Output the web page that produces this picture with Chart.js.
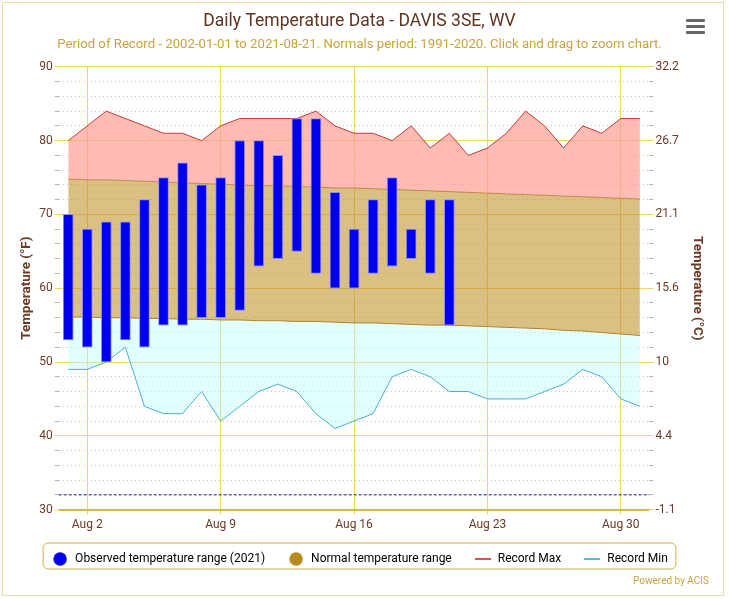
<!DOCTYPE html>
<html>
<head>
<meta charset="utf-8">
<script src="https://cdn.jsdelivr.net/npm/chart.js@4.4.1/dist/chart.umd.min.js"></script>
<style>
  body { margin: 0; background: #fff; font-family: Roboto, sans-serif; }
  #wrap { position: relative; width: 729px; height: 599px; }
  #frame { position: absolute; left: 2px; top: 2px; width: 722px; height: 594px; border: 1.5px solid #eadca4; box-sizing: border-box; pointer-events: none; }
  #menu { position: absolute; left: 686px; top: 19px; width: 19px; }
  #menu div { height: 3px; background: #666; border-radius: 1px; margin-bottom: 3px; }
  #acis { position: absolute; right: 20px; top: 575px; font-size: 10px; color: #c9a43a; }
</style>
</head>
<body>
<div id="wrap">
  <canvas id="myChart" width="729" height="599"></canvas>
  <div id="frame"></div>
  <div id="menu"><div></div><div></div><div></div></div>
  <div id="acis">Powered by ACIS</div>
</div>
<script>
// August 2021, DAVIS 3SE, WV
const days = ['Aug 1','Aug 2','Aug 3','Aug 4','Aug 5','Aug 6','Aug 7','Aug 8','Aug 9','Aug 10',
  'Aug 11','Aug 12','Aug 13','Aug 14','Aug 15','Aug 16','Aug 17','Aug 18','Aug 19','Aug 20',
  'Aug 21','Aug 22','Aug 23','Aug 24','Aug 25','Aug 26','Aug 27','Aug 28','Aug 29','Aug 30','Aug 31']
const xTicks = ['Aug 2','Aug 9','Aug 16','Aug 23','Aug 30']

// observed 2021 (only up to Aug 21)
const obsLow  = [53,52,50,53,52,55,55,56,56,57,63,64,65,62,60,60,62,63,64,62,55]
const obsHigh = [70,68,69,69,72,75,77,74,75,80,80,78,83,83,73,68,72,75,68,72,72]

const recordMax = [80,82,84,83,82,81,81,80,82,83,83,83,83,84,82,81,81,80,82,79,81,78,79,81,84,82,79,82,81,83,83]
const recordMin = [49,49,50,52,44,43,43,46,42,44,46,47,46,43,41,42,43,48,49,48,46,46,45,45,45,46,47,49,48,45,44]
const normalMax = [74.8,74.7,74.7,74.6,74.5,74.4,74.3,74.2,74.1,74.0,73.9,73.9,73.8,73.7,73.6,73.6,
  73.5,73.4,73.3,73.2,73.1,73.0,72.9,72.8,72.7,72.6,72.5,72.4,72.3,72.2,72.1]
const normalMin = [56.1,56.1,56.0,56.0,55.9,55.9,55.8,55.8,55.7,55.7,55.6,55.6,55.5,55.5,55.4,55.3,
  55.3,55.2,55.1,55.0,55.0,54.9,54.8,54.7,54.6,54.5,54.3,54.2,54.0,53.8,53.6]
const freezing = 32

const yMin = 30, yMax = 90

const brown = '#6b3a25'
const gridYellow = '#f0d468'

const toC = (f) => parseFloat(((f - 32) * 5 / 9).toFixed(1))

// little canvases used as legend markers
function marker(kind, color) {
  const c = document.createElement('canvas')
  const g = c.getContext('2d')
  if (kind === 'circle') {
    c.width = 14; c.height = 14
    g.fillStyle = color
    g.beginPath(); g.arc(7, 7, 6.7, 0, Math.PI * 2); g.fill()
  } else {
    c.width = 16; c.height = 2
    g.fillStyle = color
    g.fillRect(0, 0, 16, 2)
  }
  return c
}

// dashed freezing line + box around the legend
const extras = {
  id: 'extras',
  afterLayout(chart) {
    chart.legend.top -= 4
    chart.legend.bottom -= 4
  },
  afterDatasetsDraw(chart) {
    const {ctx, chartArea, scales} = chart
    const y = scales.y.getPixelForValue(freezing)
    ctx.save()
    ctx.strokeStyle = '#1c1c84'
    ctx.lineWidth = 1
    ctx.setLineDash([3, 2])
    ctx.beginPath()
    ctx.moveTo(chartArea.left, y)
    ctx.lineTo(chartArea.right, y)
    ctx.stroke()
    ctx.restore()
  },
  afterDraw(chart) {
    const boxes = chart.legend.legendHitBoxes
    if (!boxes || !boxes.length) return
    let l = Infinity, r = -Infinity, t = Infinity, b = -Infinity
    boxes.forEach(h => {
      l = Math.min(l, h.left); r = Math.max(r, h.left + h.width)
      t = Math.min(t, h.top); b = Math.max(b, h.top + h.height)
    })
    const mid = (t + b) / 2
    const ctx = chart.ctx
    ctx.save()
    ctx.strokeStyle = '#cfae45'
    ctx.lineWidth = 1
    ctx.beginPath()
    ctx.roundRect(l - 8, mid - 16, r - l + 16, 26, 5)
    ctx.stroke()
    ctx.restore()
  }
}

Chart.defaults.font.family = 'Roboto'

const ctx = document.getElementById('myChart')
const chart = new Chart(ctx, {
  type: 'bar',
  data: {
    labels: days,
    datasets: [
      {
        type: 'bar',
        label: 'Observed temperature range (2021)',
        data: obsLow.map((lo, i) => [lo, obsHigh[i]]),
        backgroundColor: '#0000f0',
        borderColor: '#8c8cff',
        borderWidth: 1,
        borderSkipped: false,
        barThickness: 10,
        order: 0,
        legendMark: marker('circle', '#0000f0'),
        legendRank: 0
      },
      {
        type: 'line',
        label: 'Record Max',
        data: recordMax,
        borderColor: '#c23c35',
        borderWidth: 1,
        backgroundColor: 'rgba(255,150,140,0.65)',
        fill: {target: 2},
        pointRadius: 0,
        tension: 0,
        order: 1,
        legendMark: marker('line', '#d9534f'),
        legendRank: 2
      },
      {
        type: 'line',
        label: 'Normal temperature range',
        data: normalMax,
        borderColor: '#b07d2a',
        borderWidth: 1,
        backgroundColor: 'rgba(190,140,30,0.55)',
        fill: {target: 3},
        pointRadius: 0,
        order: 1,
        legendMark: marker('circle', '#b8891c'),
        legendRank: 1
      },
      {
        type: 'line',
        label: '',
        data: normalMin,
        borderColor: '#b07d2a',
        borderWidth: 1,
        fill: false,
        pointRadius: 0,
        order: 1
      },
      {
        type: 'line',
        label: 'Record Min',
        data: recordMin,
        borderColor: '#4aaed6',
        borderWidth: 1,
        backgroundColor: 'rgba(180,255,250,0.4)',
        fill: {target: 3},
        pointRadius: 0,
        tension: 0,
        order: 1,
        legendMark: marker('line', '#5bb8e6'),
        legendRank: 3
      }
    ]
  },
  options: {
    responsive: false,
    animation: false,
    layout: { padding: {left: 5, right: 15, top: 0, bottom: 20} },
    plugins: {
      title: {
        display: true,
        text: 'Daily Temperature Data - DAVIS 3SE, WV',
        color: '#5f3421',
        font: {size: 17.5, weight: 'normal'},
        padding: {top: 11, bottom: 5}
      },
      subtitle: {
        display: true,
        text: 'Period of Record - 2002-01-01 to 2021-08-21. Normals period: 1991-2020. Click and drag to zoom chart.',
        color: '#c9a43a',
        font: {size: 13.2},
        padding: {bottom: 14}
      },
      legend: {
        position: 'bottom',
        labels: {
          usePointStyle: true,
          pointStyleWidth: 18,
          boxHeight: 12,
          padding: 22,
          color: '#4a3326',
          font: {size: 12},
          generateLabels(chart) {
            return chart.data.datasets.map((ds, i) => ({
              text: ds.label,
              datasetIndex: i,
              rank: ds.legendRank,
              pointStyle: ds.legendMark,
              fillStyle: 'transparent',
              strokeStyle: 'transparent',
              lineWidth: 0,
              hidden: false
            })).filter(it => it.text).sort((a, b) => a.rank - b.rank)
          }
        }
      },
      tooltip: {enabled: false}
    },
    scales: {
      x: {
        offset: true,
        grid: {
          offset: false,
          color: (c) => xTicks.includes(days[c.index]) ? gridYellow : 'transparent',
          tickLength: 5
        },
        border: {display: false},
        ticks: {
          autoSkip: false,
          maxRotation: 0,
          minRotation: 0,
          color: brown,
          font: {size: 12},
          padding: 3,
          callback: (val, idx) => xTicks.includes(days[idx]) ? days[idx] : ''
        }
      },
      y: {
        position: 'left',
        min: yMin,
        max: yMax,
        ticks: {
          autoSkip: false,
          stepSize: 2,
          color: brown,
          font: {size: 12},
          padding: 2,
          callback: (v) => v % 10 === 0 ? v : ''
        },
        grid: {
          color: (c) => c.tick.value === yMin ? '#d8b84c' : (c.tick.value % 10 === 0 ? gridYellow : '#c8c8c8'),
          lineWidth: (c) => c.tick.value === yMin ? 2 : 1,
          tickColor: (c) => c.tick.value % 10 === 0 ? gridYellow : '#b8b8b8',
          tickLength: 4,
          tickWidth: 1,
          tickBorderDash: []
        },
        border: {
          display: false,
          dash: (c) => (c.tick && c.tick.value % 10 !== 0) ? [1, 3] : []
        },
        title: {
          display: true,
          text: 'Temperature (°F)',
          color: brown,
          font: {size: 13.5, weight: 'bold'},
          padding: {top: 14, bottom: 2}
        }
      },
      y2: {
        position: 'right',
        min: yMin,
        max: yMax,
        ticks: {
          autoSkip: false,
          stepSize: 2,
          color: brown,
          font: {size: 12},
          padding: 2,
          callback: (v) => v % 10 === 0 ? toC(v) : ''
        },
        grid: {
          drawOnChartArea: false,
          color: (c) => c.tick.value % 10 === 0 ? gridYellow : '#b8b8b8',
          tickLength: 4
        },
        border: {display: false},
        title: {
          display: true,
          text: 'Temperature (°C)',
          color: brown,
          font: {size: 13.5, weight: 'bold'},
          padding: {top: 9, bottom: 8}
        }
      }
    }
  },
  plugins: [extras]
})
</script>
</body>
</html>
